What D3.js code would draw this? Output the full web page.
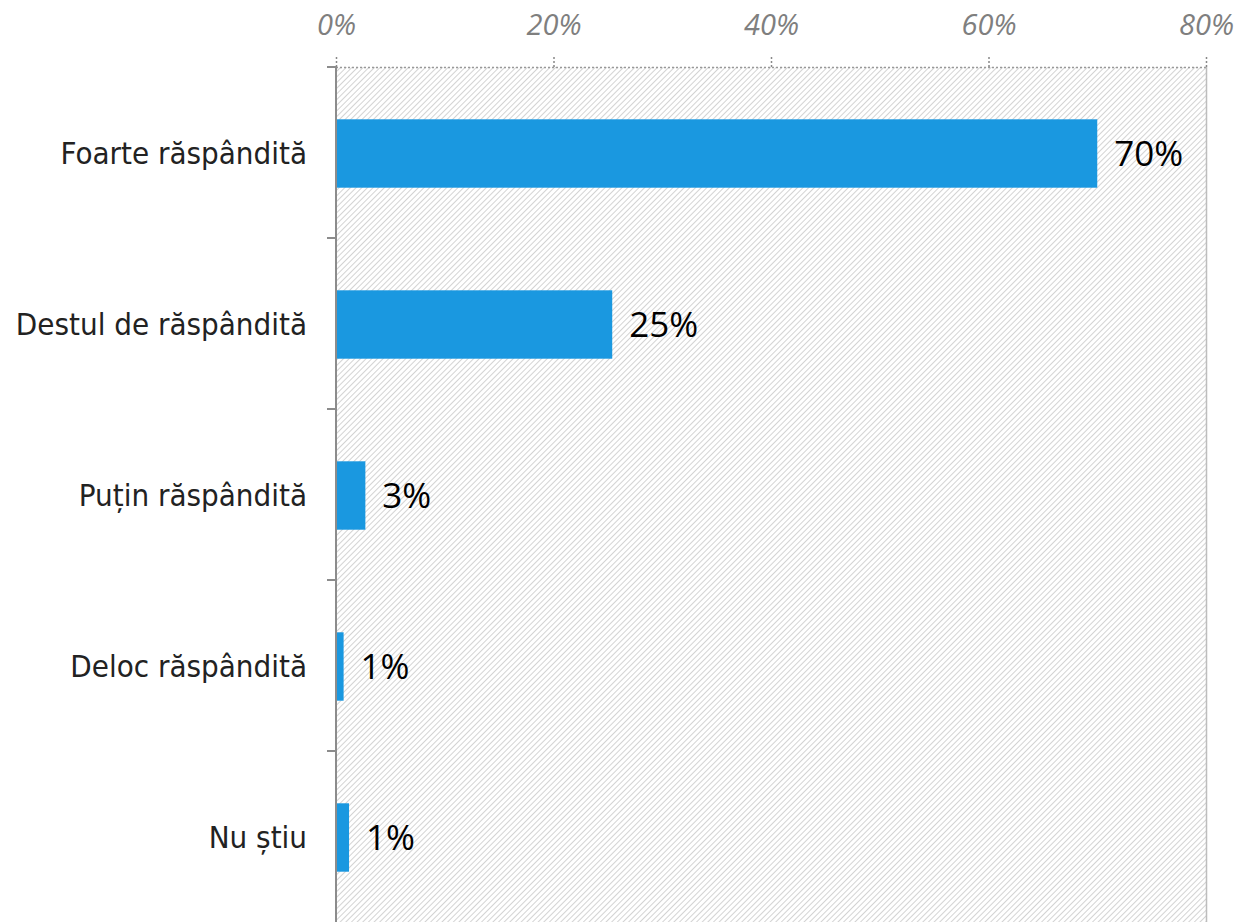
<!DOCTYPE html>
<html><head><meta charset="utf-8">
<script src="https://cdn.jsdelivr.net/npm/d3@7"></script>
<style>body{margin:0;background:#fff}svg{display:block}</style>
</head><body>
<svg id="c" width="1239" height="922"></svg>
<script>
const categories = ["Foarte răspândită","Destul de răspândită","Puțin răspândită","Deloc răspândită","Nu știu"];
const values = [70.0, 25.4, 2.7, 0.7, 1.2];
const valueLabels = ["70%","25%","3%","1%","1%"];
const xTicks = [0,20,40,60,80];

const svg = d3.select("#c");
const m = {left:336, right:1206, top:67, bottom:922};
const x = d3.scaleLinear().domain([0,80]).range([m.left, m.right]);
const y = d3.scaleBand().domain(categories).range([m.top, m.bottom]).paddingInner(0.6).paddingOuter(0.3);

const defs = svg.append("defs");
const pat = defs.append("pattern").attr("id","hatch").attr("patternUnits","userSpaceOnUse")
  .attr("width",4).attr("height",4).attr("patternTransform","rotate(45)");
pat.append("line").attr("x1",0).attr("y1",-1).attr("x2",0).attr("y2",5)
  .attr("stroke","#bbbbbb").attr("stroke-width",1.3);

svg.append("rect").attr("x",m.left).attr("y",m.top).attr("width",m.right-m.left).attr("height",m.bottom-m.top)
  .attr("fill","url(#hatch)");

// top border dotted
svg.append("line").attr("x1",m.left).attr("x2",m.right).attr("y1",m.top+0.5).attr("y2",m.top+0.5)
  .attr("stroke","#999").attr("stroke-width",1.5).attr("stroke-dasharray","2,2");
// right border
svg.append("line").attr("x1",m.right+0.5).attr("x2",m.right+0.5).attr("y1",m.top).attr("y2",m.bottom)
  .attr("stroke","#bdbdbd").attr("stroke-width",1.5);

// top axis
const xAxis = d3.axisTop(x).tickValues(xTicks).tickFormat(d=>d+"%").tickSize(10).tickPadding(22);
const gx = svg.append("g").attr("transform",`translate(0,${m.top})`).call(xAxis);
gx.select(".domain").remove();
gx.selectAll(".tick line").attr("stroke","#888").attr("stroke-width",1.5).attr("stroke-dasharray","2,2");
gx.selectAll(".tick text").attr("fill","#7f7f7f").attr("font-family","'Open Sans'")
  .attr("font-style","italic").attr("font-size",29);

// left axis
const bandTicks = categories.map(c=>y(c)-y.step()*y.paddingInner()/2);
svg.append("line").attr("x1",m.left).attr("x2",m.left).attr("y1",m.top).attr("y2",m.bottom)
  .attr("stroke","#8c8c8c").attr("stroke-width",2);
svg.selectAll(".lt").data(bandTicks).join("line")
  .attr("x1",m.left-9).attr("x2",m.left).attr("y1",d=>Math.round(d)).attr("y2",d=>Math.round(d))
  .attr("stroke","#8c8c8c").attr("stroke-width",2);

// bars
svg.selectAll(".bar").data(values).join("rect")
  .attr("x",x(0)+1).attr("y",(d,i)=>y(categories[i])+1)
  .attr("width",d=>x(d)-x(0)-1).attr("height",y.bandwidth()).attr("fill","#1a98e0");

// value labels
svg.selectAll(".vl").data(values).join("text")
  .attr("x",d=>x(d)+17).attr("y",(d,i)=>y(categories[i])+y.bandwidth()/2+1)
  .attr("dy","0.36em").attr("font-family","'Open Sans'").attr("font-size",35).attr("fill","#000")
  .text((d,i)=>valueLabels[i]);

// category labels
svg.selectAll(".cl").data(categories).join("text")
  .attr("x",307).attr("y",d=>y(d)+y.bandwidth()/2).attr("dy","0.36em")
  .attr("text-anchor","end").attr("font-family","'DejaVu Sans Condensed','DejaVu Sans'")
  .attr("font-size",31).attr("fill","#222").text(d=>d);
</script>
</body></html>
